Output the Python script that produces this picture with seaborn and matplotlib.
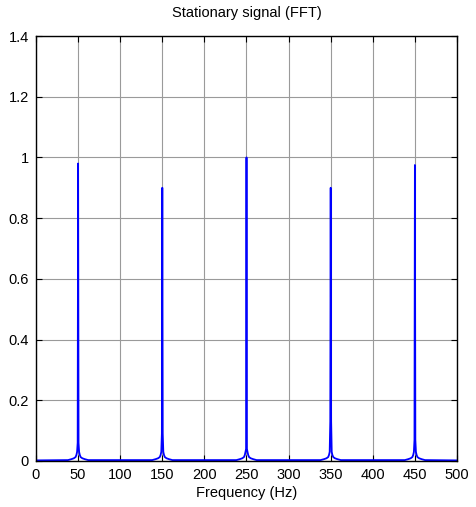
import numpy as np
import pandas as pd
import matplotlib
matplotlib.use("Agg")
import matplotlib.pyplot as plt
import seaborn as sns

# ---- data ----
peak_freqs = [50, 150, 250, 350, 450]
peak_heights = [0.98, 0.90, 1.00, 0.90, 0.975]
skirt_heights = [0.06, 0.09, 0.04, 0.13, 0.07]
# offsets (Hz) around each peak and the corresponding baseline/skirt levels
skirt_offsets = [-12, -8, -5, -3, -2, -1.2, -0.5, 0, 0.5, 1.2, 2, 3, 5, 8, 12]
skirt_levels = [0.003, 0.006, 0.009, 0.013, 0.02, 0.03, None, None, None, 0.03, 0.02, 0.013, 0.009, 0.006, 0.003]
baseline_level = 0.002
x_ticks = [0, 50, 100, 150, 200, 250, 300, 350, 400, 450, 500]
y_ticks = [0, 0.2, 0.4, 0.6, 0.8, 1.0, 1.2, 1.4]
y_tick_labels = ["0", "0.2", "0.4", "0.6", "0.8", "1", "1.2", "1.4"]

# ---- build the spectrum table ----
freqs, amps = [0.0], [baseline_level]
for f, h, s in zip(peak_freqs, peak_heights, skirt_heights):
    for off, lev in zip(skirt_offsets, skirt_levels):
        freqs.append(f + off)
        if off == 0:
            amps.append(h)
        elif lev is None:
            amps.append(s)
        else:
            amps.append(lev)
freqs.append(500.0)
amps.append(baseline_level)
df = pd.DataFrame({"Frequency (Hz)": freqs, "Amplitude": amps})

sns.set_theme(style="white")
plt.rcParams["font.family"] = ["Liberation Sans", "DejaVu Sans"]
plt.rcParams["text.color"] = "black"
plt.rcParams["axes.labelcolor"] = "black"

fig = plt.figure(figsize=(4.76, 5.07), dpi=100)
ax = fig.add_axes([36 / 476, 1 - 461 / 507, (457 - 36) / 476, (461 - 36) / 507])

sns.lineplot(data=df, x="Frequency (Hz)", y="Amplitude", ax=ax,
             color="#0000ff", linewidth=1.3, estimator=None, sort=False)

ax.set_xlim(0, 500)
ax.set_ylim(0, 1.4)
ax.set_xticks(x_ticks)
ax.set_xticklabels([str(t) for t in x_ticks])
ax.set_yticks(y_ticks)
ax.set_yticklabels(y_tick_labels)
ax.grid(True, color="#9a9a9a", linewidth=0.8, linestyle="-")
ax.set_axisbelow(True)
for sp in ax.spines.values():
    sp.set_color("black")
    sp.set_linewidth(1.0)
    sp.set_visible(True)
ax.tick_params(direction="in", length=4, width=0.8, colors="black",
               labelsize=10.5, pad=5, left=True, bottom=True, top=True, right=True)
ax.set_xlabel("Frequency (Hz)", fontsize=10.5, labelpad=3, color="black")
ax.set_ylabel("")
ax.set_title("Stationary signal (FFT)", fontsize=10.5, pad=14, color="black")

fig.savefig("out.png", dpi=100, facecolor="white")
